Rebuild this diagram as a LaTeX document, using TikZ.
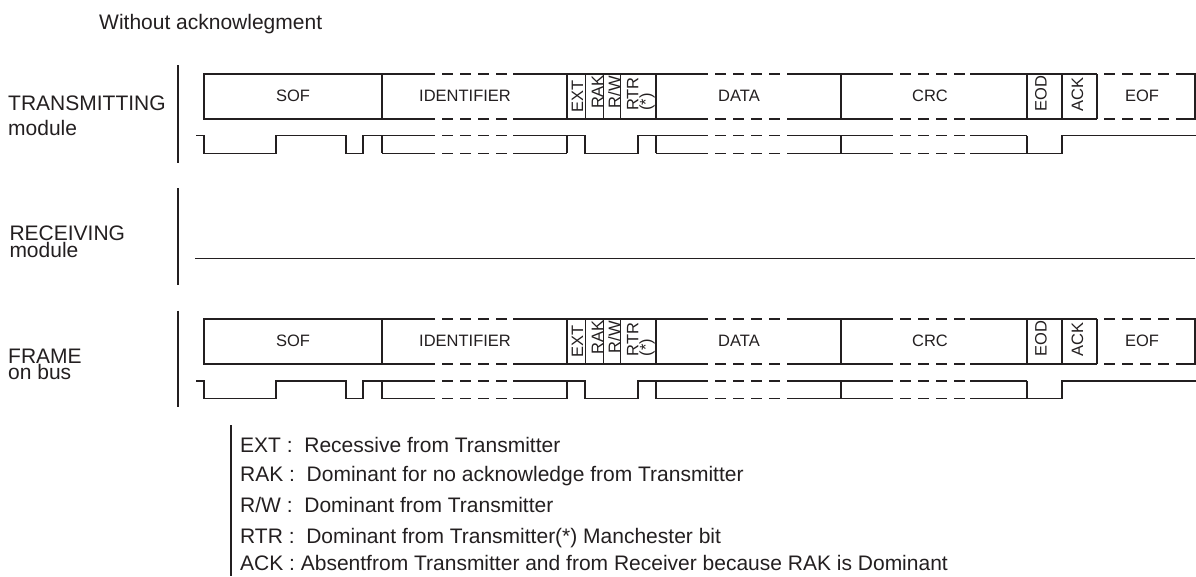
\documentclass[tikz,border=0pt]{standalone}
\usepackage{fontspec}
\setmainfont{Liberation Sans}
\definecolor{ink}{RGB}{35,31,32}
\tikzset{
  boxline/.style={line width=1.8pt, draw=ink},
  thinsep/.style={line width=1pt, draw=ink},
  sigline/.style={line width=1.1pt, draw=ink},
  dashseg/.style={dash pattern=on 11pt off 7pt, dash phase=11pt},
  sidebar/.style={line width=2.3pt, draw=ink},
  rowlabel/.style={anchor=base west, inner sep=0pt, text=ink, font=\fontsize{21}{25}\selectfont},
  fieldlabel/.style={inner sep=0pt, text=ink, font=\fontsize{16.5}{13}\selectfont},
  vlabel/.style={fieldlabel, rotate=90},
  legendtext/.style={anchor=base west, inner sep=0pt, text=ink, font=\fontsize{21}{25}\selectfont},
}
\begin{document}
\begin{tikzpicture}[x=1pt,y=-1pt]
\useasboundingbox (0,0) rectangle (1196,576);
\node[rowlabel] (title) at (99,29.3) {Without acknowlegment};

\node[rowlabel] (tx1) at (8,110) {TRANSMITTING};
\node[rowlabel] (tx2) at (8,135) {module};
\node[rowlabel] (rx1) at (9.3,240) {RECEIVING};
\node[rowlabel] (rx2) at (9.3,257) {module};
\node[rowlabel] (fr1) at (8,363.3) {FRAME};
\node[rowlabel] (fr2) at (8,379.3) {on bus};

\draw[sidebar] (178,65) -- (178,163);
\draw[sidebar] (178,188) -- (178,285);
\draw[sidebar] (178,310.7) -- (178,407.3);
\draw[sidebar] (231,425) -- (231,576);
\draw[sigline] (195,258.3) -- (1195,258.3);

\foreach \r/\dy in {t/0,f/245.3}{
 \begin{scope}[yshift=-\dy pt]
   % frame box
   \draw[boxline] (435,74) -- (204,74) -- (204,119) -- (435,119);
   \foreach \a/\b in {513/708, 788/893, 970/1097}{
     \draw[boxline] (\a,74) -- (\b,74);
     \draw[boxline] (\a,119) -- (\b,119);
   }
   \draw[boxline] (1177,74) -- (1195,74) -- (1195,119) -- (1177,119);
   \foreach \a/\b in {435/513, 708/788, 893/970, 1097/1177}{
     \draw[boxline,dashseg] (\a,74) -- (\b,74);
     \draw[boxline,dashseg] (\a,119) -- (\b,119);
   }
   \foreach \x in {382,567,656,841,1027,1062,1097}{\draw[boxline] (\x,74) -- (\x,119);}
   \foreach \x in {585,603,620}{\draw[thinsep] (\x,74) -- (\x,119);}
   % signal
   \draw[sigline] (196,135.7) -- (204,135.7) -- (204,153.3) -- (276,153.3) -- (276,135.7)
      -- (346,135.7) -- (346,153.3) -- (363,153.3) -- (363,135.7) -- (382,135.7);
   \foreach \x in {382,567,656,841,1027}{\draw[sigline] (\x,135.7) -- (\x,153.3);}
   \foreach \a/\b in {382/435, 513/567, 656/708, 788/893, 970/1027}{
     \draw[sigline] (\a,135.7) -- (\b,135.7);
     \draw[sigline] (\a,153.3) -- (\b,153.3);
   }
   \foreach \a/\b in {435/513, 708/788, 893/970}{
     \draw[sigline,dashseg] (\a,135.7) -- (\b,135.7);
     \draw[sigline,dashseg] (\a,153.3) -- (\b,153.3);
   }
   \draw[sigline] (567,135.7) -- (585,135.7) -- (585,153.3) -- (638,153.3) -- (638,135.7) -- (656,135.7);
   \draw[sigline] (1027,153.3) -- (1062,153.3) -- (1062,135.7) -- (1196,135.7);
   % labels
   \node[fieldlabel] (\r-sof) at (293,95.8) {SOF};
   \node[fieldlabel] (\r-id) at (465,95.8) {IDENTIFIER};
   \node[fieldlabel] (\r-data) at (739,95.8) {DATA};
   \node[fieldlabel] (\r-crc) at (930,95.8) {CRC};
   \node[fieldlabel] (\r-eof) at (1142,95.8) {EOF};
   \node[vlabel] (\r-ext) at (577.5,96.2) {EXT};
   \node[vlabel] (\r-rak) at (597.5,92) {RAK};
   \node[vlabel] (\r-rw) at (614.2,92) {R/W};
   \node[vlabel, align=left] (\r-rtr) at (641,94) {RTR\\(*)};
   \node[vlabel] (\r-eod) at (1041,93.3) {EOD};
   \node[vlabel] (\r-ack) at (1077.5,94.2) {ACK};
 \end{scope}
}

\node[legendtext] (lg1) at (240,452) {EXT :\ \ Recessive from Transmitter};
\node[legendtext] (lg2) at (240,481.5) {RAK :\ \ Dominant for no acknowledge from Transmitter};
\node[legendtext] (lg3) at (240,512) {R/W :\ \ Dominant from Transmitter};
\node[legendtext] (lg4) at (240,543) {RTR :\ \ Dominant from Transmitter(*) Manchester bit};
\node[legendtext] (lg5) at (240,570) {ACK : Absentfrom Transmitter and from Receiver because RAK is Dominant};
\end{tikzpicture}
\end{document}
